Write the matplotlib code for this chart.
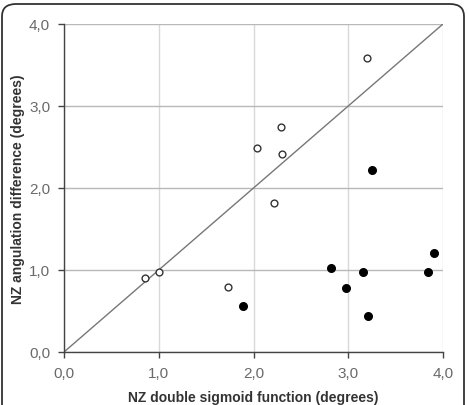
import matplotlib
matplotlib.use('Agg')
import matplotlib.pyplot as plt
from matplotlib.patches import FancyBboxPatch
from matplotlib.ticker import FuncFormatter

plt.rcParams.update({
    'font.family': ['Liberation Sans', 'DejaVu Sans'],
    'font.size': 11,
})

# ── Datos ─────────────────────────────────────────────────────────
open_x = [0.86, 1.00, 1.73, 2.04, 2.29, 2.30, 2.22, 3.20]
open_y = [0.90, 0.98, 0.79, 2.49, 2.74, 2.42, 1.82, 3.58]
fill_x = [1.89, 2.82, 2.98, 3.16, 3.21, 3.25, 3.84, 3.91]
fill_y = [0.56, 1.03, 0.78, 0.98, 0.44, 2.22, 0.97, 1.21]
identity = [0.0, 4.0]
ticks = [0.0, 1.0, 2.0, 3.0, 4.0]

fig = plt.figure(figsize=(4.69, 4.06), dpi=100, facecolor='white')

# marco redondeado
frame = FancyBboxPatch((2 / 469, -0.1), 462 / 469, 1.0 - 5 / 406 + 0.1,
                       boxstyle='round,pad=0,rounding_size=0.03',
                       transform=fig.transFigure, facecolor='none',
                       edgecolor='#333333', linewidth=1.3)
fig.patches.append(frame)

ax = fig.add_axes([64 / 469, 53 / 406, 379 / 469, 328 / 406])

ax.plot(identity, identity, color='#777777', linewidth=1.0, zorder=2)
ax.scatter(open_x, open_y, s=24, facecolor='white', edgecolor='#333333',
           linewidth=1.0, zorder=3)
ax.scatter(fill_x, fill_y, s=30, color='black', zorder=3)

ax.set_xlim(0, 4)
ax.set_ylim(0, 4)
ax.set_xticks(ticks)
ax.set_yticks(ticks)
fmt = FuncFormatter(lambda v, p: f'{v:.1f}'.replace('.', ','))
ax.xaxis.set_major_formatter(fmt)
ax.yaxis.set_major_formatter(fmt)

ax.xaxis.grid(True, color='#d9d9d9', linewidth=1.0)
ax.yaxis.grid(True, color='#b8b8b8', linewidth=1.0)
ax.set_axisbelow(True)

for s in ['top', 'right']:
    ax.spines[s].set_visible(False)
for s in ['left', 'bottom']:
    ax.spines[s].set_color('#444444')
    ax.spines[s].set_linewidth(1.0)

ax.tick_params(direction='out', length=4, width=1.0, color='#444444',
               labelsize=11, labelcolor='#6a6a6a', pad=6)

ax.set_xlabel('NZ double sigmoid function (degrees)', fontsize=10,
              fontweight='bold', color='#333333', labelpad=7)
ax.set_ylabel('NZ angulation difference (degrees)', fontsize=10,
              fontweight='bold', color='#333333', labelpad=3)

plt.savefig('out.png', dpi=100, facecolor='white')
plt.close()
